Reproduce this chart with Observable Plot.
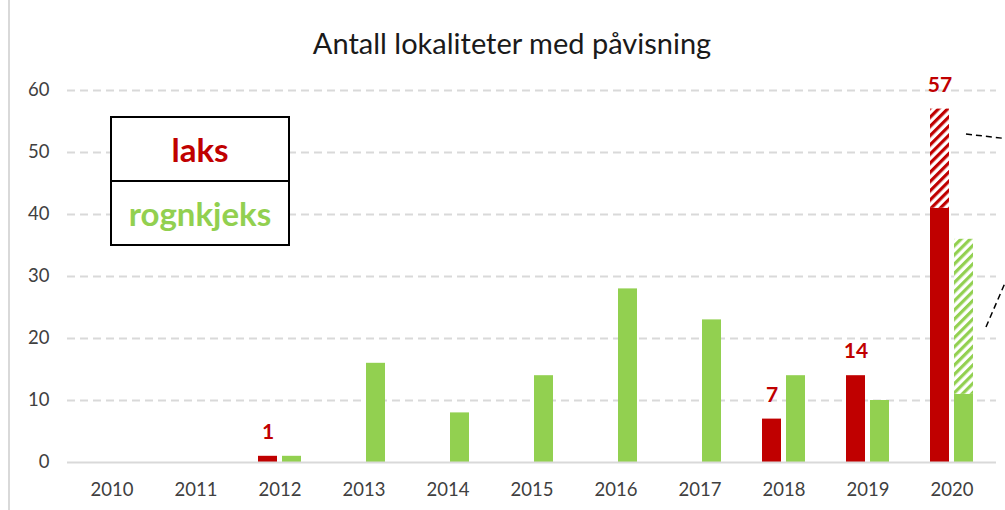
<!DOCTYPE html>
<html>
<head>
<meta charset="utf-8">
<script src="https://cdn.jsdelivr.net/npm/d3@7"></script>
<script src="https://cdn.jsdelivr.net/npm/@observablehq/plot@0.6"></script>
<style>
  html, body { margin: 0; padding: 0; background: #fff; }
  #wrap { position: relative; width: 1005px; height: 510px; overflow: hidden; font-family: Lato, "Open Sans", sans-serif; }
  #border { position: absolute; left: 8px; top: 0; width: 2px; height: 510px; background: #d9d9d9; }
  #legend { position: absolute; left: 110px; top: 116px; width: 176px; border: 2px solid #000; background: #fff; }
  #legend div { height: 62px; line-height: 62px; text-align: center; font-weight: bold; font-size: 33px; }
  #legend .l1 { color: #C00000; border-bottom: 2px solid #000; }
  #legend .l2 { color: #92D050; }
</style>
</head>
<body>
<div id="wrap"><div id="border"></div><div id="chart"></div>
<div id="legend"><div class="l1">laks</div><div class="l2">rognkjeks</div></div>
</div>
<script>
const years = ["2010","2011","2012","2013","2014","2015","2016","2017","2018","2019","2020"];
const laks = [0, 0, 1, 0, 0, 0, 0, 0, 7, 14, 41];
const laksTotal = [0, 0, 1, 0, 0, 0, 0, 0, 7, 14, 57];
const rognkjeks = [0, 0, 1, 16, 8, 14, 28, 23, 14, 10, 11];
const rognkjeksTotal = [0, 0, 1, 16, 8, 14, 28, 23, 14, 10, 36];
const laksLabels = [null, null, 1, null, null, null, null, null, 7, 14, 57];
const yTicks = [0, 10, 20, 30, 40, 50, 60];
const title = "Antall lokaliteter med påvisning";

const rows = years.map((year, i) => ({
  year, laks: laks[i], laksTotal: laksTotal[i],
  rognkjeks: rognkjeks[i], rognkjeksTotal: rognkjeksTotal[i], label: laksLabels[i]
}));

const RED = "#C00000", GREEN = "#92D050";

const chart = Plot.plot({
  width: 1005,
  height: 510,
  marginTop: 90,
  marginBottom: 48,
  marginLeft: 67,
  marginRight: 9,
  style: { fontFamily: "Lato, 'Open Sans', sans-serif", fontSize: "18.5px", color: "#404040", background: "transparent" },
  x: { type: "band", domain: years, paddingInner: 0.775, paddingOuter: 0.3875, label: null, tickSize: 0, tickPadding: 20 },
  y: { domain: [0, 60], ticks: yTicks, label: null, tickSize: 0, tickPadding: 18 },
  marks: [
    Plot.ruleY(yTicks.filter(d => d > 0), { stroke: "#d9d9d9", strokeWidth: 1.8, strokeDasharray: "8,5" }),
    Plot.barY(rows.filter(d => d.laks > 0), { x: "year", y: "laks", fill: RED, dx: -12 }),
    Plot.barY(rows.filter(d => d.laksTotal > d.laks), { x: "year", y1: "laks", y2: "laksTotal", fill: "url(#hatchRed)", dx: -12 }),
    Plot.barY(rows.filter(d => d.rognkjeks > 0), { x: "year", y: "rognkjeks", fill: GREEN, dx: 12 }),
    Plot.barY(rows.filter(d => d.rognkjeksTotal > d.rognkjeks), { x: "year", y1: "rognkjeks", y2: "rognkjeksTotal", fill: "url(#hatchGreen)", dx: 12 }),
    Plot.ruleY([0], { stroke: "#d9d9d9", strokeWidth: 2 }),
    Plot.text(rows.filter(d => d.label != null), { x: "year", y: "laksTotal", text: "label", dx: -12, dy: -24, fill: RED, fontWeight: "bold", fontSize: 21 }),
    Plot.text([title], { text: d => d, frameAnchor: "top", dy: -57, dx: -20, fontSize: 29, fill: "#1a1a1a" })
  ]
});

const svg = d3.select(chart);
svg.insert("defs", ":first-child").html(
  `<pattern id="hatchRed" patternUnits="userSpaceOnUse" width="6.5" height="6.5" patternTransform="rotate(45)">
     <rect width="6.5" height="6.5" fill="#fff"/><rect width="3.2" height="6.5" fill="${RED}"/></pattern>
   <pattern id="hatchGreen" patternUnits="userSpaceOnUse" width="6.5" height="6.5" patternTransform="rotate(45)">
     <rect width="6.5" height="6.5" fill="#fff"/><rect width="3.2" height="6.5" fill="${GREEN}"/></pattern>`
);
// callout leader lines (pointing to annotation outside the crop)
svg.append("line").attr("x1", 966).attr("y1", 134).attr("x2", 1005).attr("y2", 138.5)
  .attr("stroke", "#000").attr("stroke-width", 1.5).attr("stroke-dasharray", "6,4");
svg.append("line").attr("x1", 986).attr("y1", 327).attr("x2", 1005).attr("y2", 283)
  .attr("stroke", "#000").attr("stroke-width", 1.5).attr("stroke-dasharray", "6,4");

document.getElementById("chart").appendChild(chart);
</script>
</body>
</html>
